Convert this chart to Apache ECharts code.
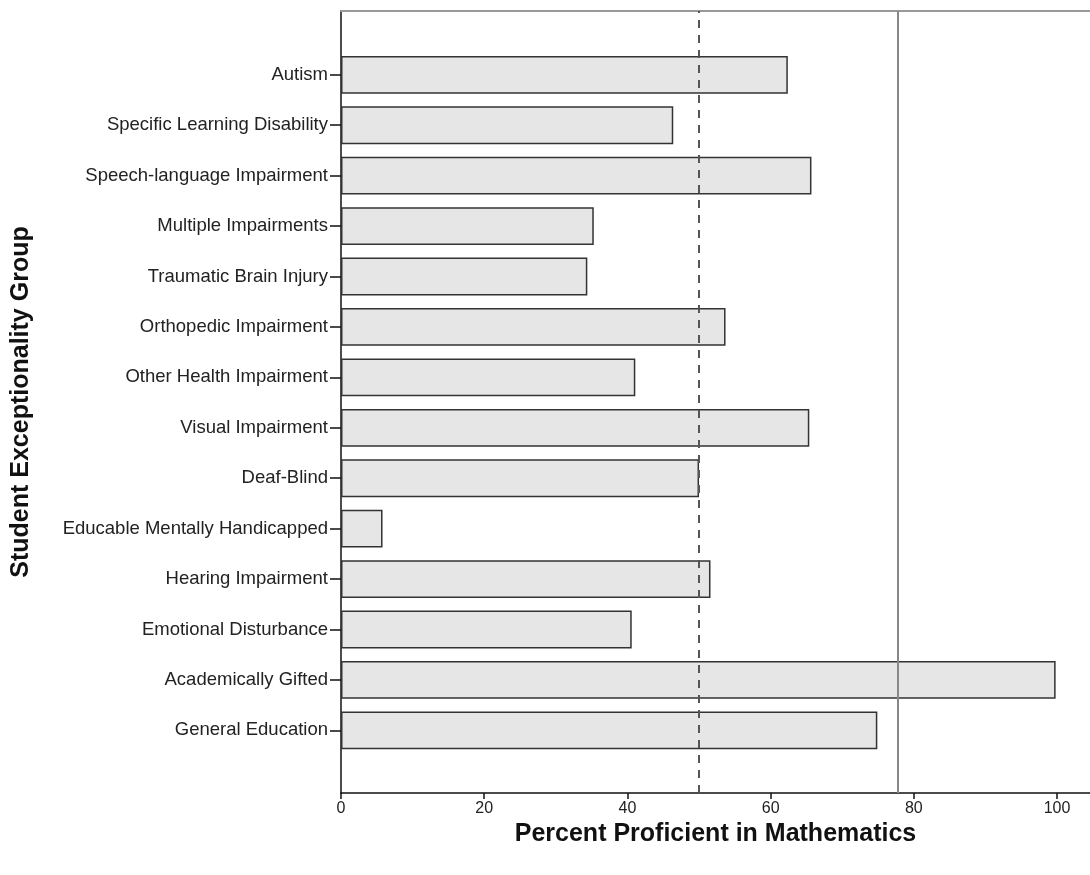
<!DOCTYPE html>
<html>
<head>
<meta charset="utf-8">
<script src="https://cdn.jsdelivr.net/npm/echarts@6/dist/echarts.min.js"></script>
<style>
  html, body { margin: 0; padding: 0; background: #fff; }
  #main { width: 1090px; height: 875px; }
</style>
</head>
<body>
<div id="main"></div>
<script>
// 类别（自上而下）
var groups = [
    'Autism', 'Specific Learning Disability', 'Speech-language Impairment',
    'Multiple Impairments', 'Traumatic Brain Injury', 'Orthopedic Impairment',
    'Other Health Impairment', 'Visual Impairment', 'Deaf-Blind',
    'Educable Mentally Handicapped', 'Hearing Impairment', 'Emotional Disturbance',
    'Academically Gifted', 'General Education'
];
// 数学达标百分比
var percentProficient = [62.4, 46.4, 65.7, 35.3, 34.4, 53.7, 41.1, 65.4, 50.0, 5.8, 51.6, 40.6, 99.8, 74.9];
// 参考线
var dashedRef = 50;
var solidRef = 77.7;
var xTicks = [0, 20, 40, 60, 80, 100];

var xMax = 104.6;
var fontFamily = '"Liberation Sans", Arial, sans-serif';

var myChart = echarts.init(document.getElementById('main'));

var option = {
    animation: false,
    backgroundColor: '#fff',
    grid: [
        {left: 341, right: 0, top: 49.6, bottom: 119.4, outerBoundsMode: 'none'}, // 柱子
        {left: 341, right: 0, top: 11, bottom: 82, outerBoundsMode: 'none'}       // 坐标轴框
    ],
    xAxis: [
        {gridIndex: 0, type: 'value', min: 0, max: xMax, show: false},
        {
            gridIndex: 1, type: 'value', min: 0, max: xMax, interval: 20,
            name: 'Percent Proficient in Mathematics',
            nameLocation: 'middle', nameGap: 27,
            nameTextStyle: {fontFamily: fontFamily, fontWeight: 'bold', fontSize: 25, color: '#111'},
            axisLine: {show: true, lineStyle: {color: '#111', width: 1.5}},
            axisTick: {show: true, length: 6, lineStyle: {color: '#111', width: 1.5}},
            axisLabel: {
                fontFamily: fontFamily, fontSize: 16, color: '#222', margin: 8,
                showMaxLabel: false,
                formatter: function (v) { return xTicks.indexOf(v) >= 0 ? String(v) : ''; }
            },
            splitLine: {show: false}
        },
        {
            gridIndex: 1, type: 'value', position: 'top', min: 0, max: xMax,
            axisLine: {show: true, lineStyle: {color: '#999', width: 2}},
            axisTick: {show: false}, axisLabel: {show: false}, splitLine: {show: false}
        }
    ],
    yAxis: [
        {
            gridIndex: 0, type: 'category', data: groups, inverse: true,
            axisLine: {show: false},
            axisTick: {show: true, alignWithLabel: true, length: 11, lineStyle: {color: '#111', width: 1.5}},
            axisLabel: {fontFamily: fontFamily, fontSize: 18.5, color: '#222', margin: 13}
        },
        {
            gridIndex: 1, type: 'value', min: 0, max: 1,
            name: 'Student Exceptionality Group',
            nameLocation: 'middle', nameGap: 307,
            nameTextStyle: {fontFamily: fontFamily, fontWeight: 'bold', fontSize: 25, color: '#111'},
            axisLine: {show: true, lineStyle: {color: '#111', width: 1.5}},
            axisTick: {show: false}, axisLabel: {show: false}, splitLine: {show: false}
        }
    ],
    series: [
        {
            type: 'bar',
            xAxisIndex: 0, yAxisIndex: 0,
            data: percentProficient,
            barCategoryGap: '25%',
            itemStyle: {color: '#e6e6e6', borderColor: '#333', borderWidth: 1.5},
            z: 2
        },
        {
            type: 'line',
            xAxisIndex: 1, yAxisIndex: 1,
            data: [],
            z: 5,
            markLine: {
                silent: true, symbol: 'none', label: {show: false},
                data: [
                    {xAxis: dashedRef, lineStyle: {type: [8, 7], color: '#555', width: 2}},
                    {xAxis: solidRef, lineStyle: {type: 'solid', color: '#888', width: 2}}
                ]
            }
        }
    ]
};

myChart.setOption(option, true);
</script>
</body>
</html>
